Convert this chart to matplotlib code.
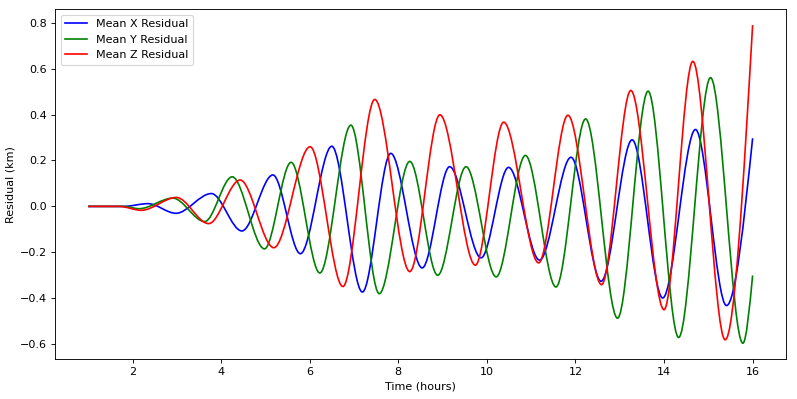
import numpy as np
import matplotlib
matplotlib.use("Agg")
import matplotlib.pyplot as plt
from matplotlib.path import Path
from matplotlib.patches import PathPatch
from matplotlib.lines import Line2D

# turning points (time in hours, residual in km)
x_time = [1.0, 1.8, 2.35, 2.98, 3.78, 4.47, 5.17, 5.79, 6.50, 7.19, 7.83, 8.54, 9.16,
          9.87, 10.49, 11.19, 11.90, 12.58, 13.28, 13.97, 14.71, 15.41, 16.0]
x_res = [0.0, 0.0, 0.012, -0.030, 0.056, -0.107, 0.137, -0.206, 0.262, -0.373, 0.231,
         -0.268, 0.173, -0.224, 0.170, -0.234, 0.214, -0.326, 0.290, -0.399, 0.335,
         -0.432, 0.297]

y_time = [1.0, 1.8, 2.15, 2.91, 3.63, 4.25, 4.98, 5.58, 6.23, 6.93, 7.57, 8.26, 8.89,
          9.53, 10.21, 10.87, 11.56, 12.23, 12.95, 13.64, 14.33, 15.05, 15.78, 16.0]
y_res = [0.0, 0.0, -0.010, 0.036, -0.066, 0.129, -0.185, 0.192, -0.290, 0.354, -0.380,
         0.196, -0.300, 0.173, -0.307, 0.222, -0.351, 0.381, -0.487, 0.502, -0.571,
         0.561, -0.596, -0.301]

z_time = [1.0, 1.7, 2.2, 2.99, 3.72, 4.43, 5.19, 6.01, 6.75, 7.47, 8.26, 8.94, 9.74,
          10.38, 11.17, 11.83, 12.59, 13.25, 14.00, 14.65, 15.38, 16.0]
z_res = [0.0, 0.0, -0.017, 0.039, -0.075, 0.115, -0.180, 0.260, -0.349, 0.466, -0.284,
         0.399, -0.256, 0.367, -0.246, 0.397, -0.341, 0.505, -0.450, 0.632, -0.581, 0.790]

series = [
    ("Mean X Residual", x_time, x_res, "blue"),
    ("Mean Y Residual", y_time, y_res, "green"),
    ("Mean Z Residual", z_time, z_res, "red"),
]


def smooth_path(t, v):
    # monotone cubic (like d3 curveMonotoneX) drawn as bezier segments
    t = np.asarray(t, float)
    v = np.asarray(v, float)
    h = np.diff(t)
    s = np.diff(v) / h
    m = np.zeros(len(t))
    for i in range(1, len(t) - 1):
        if s[i - 1] * s[i] > 0:
            m[i] = 2 / (1 / s[i - 1] + 1 / s[i])
    m[0] = (3 * s[0] - m[1]) / 2
    m[-1] = (3 * s[-1] - m[-2]) / 2
    verts = [(t[0], v[0])]
    codes = [Path.MOVETO]
    for i in range(len(t) - 1):
        d = h[i] / 3
        verts += [(t[i] + d, v[i] + m[i] * d),
                  (t[i + 1] - d, v[i + 1] - m[i + 1] * d),
                  (t[i + 1], v[i + 1])]
        codes += [Path.CURVE4] * 3
    return Path(verts, codes)


fig, ax = plt.subplots(figsize=(9.9625, 4.9875), dpi=80)
fig.subplots_adjust(left=0.069, right=0.986, bottom=0.10, top=0.977)

handles = []
for label, t, v, color in series:
    ax.add_patch(PathPatch(smooth_path(t, v), fill=False, edgecolor=color, lw=1.5))
    handles.append(Line2D([], [], color=color, lw=1.5, label=label))

ax.autoscale_view()
ax.set_xlabel("Time (hours)")
ax.set_ylabel("Residual (km)")
ax.legend(handles=handles, loc="upper left")

plt.savefig("out.png")
